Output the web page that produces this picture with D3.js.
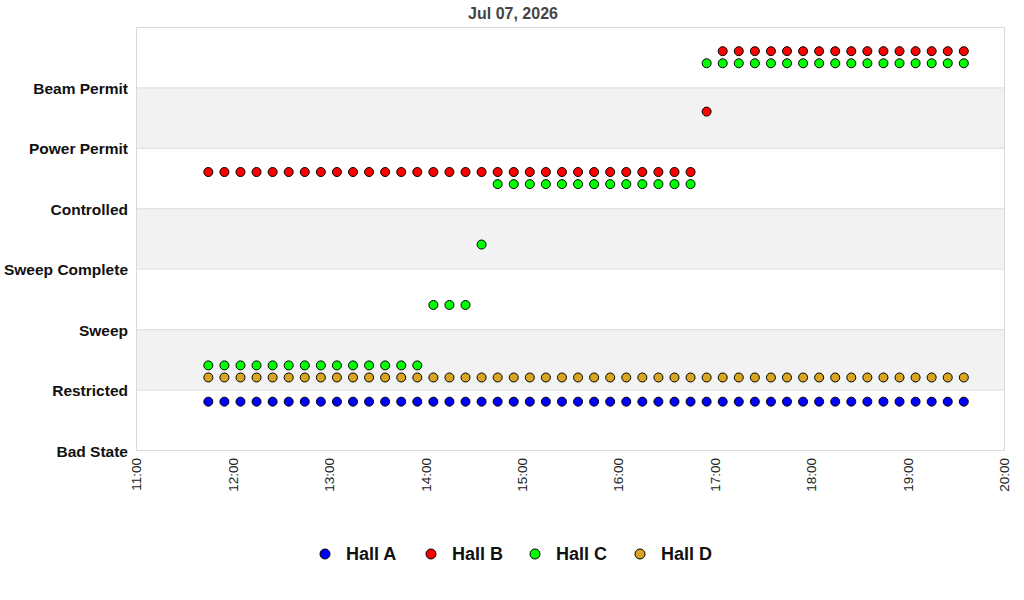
<!DOCTYPE html>
<html>
<head>
<meta charset="utf-8">
<script src="https://cdn.jsdelivr.net/npm/d3@7"></script>
<style>
  body { margin: 0; background: #fff; font-family: "Liberation Sans", Arial, sans-serif; }
</style>
</head>
<body>
<svg id="chart"></svg>
<script>
// states on the y axis, bottom to top
const states = ["Bad State", "Restricted", "Sweep", "Sweep Complete", "Controlled", "Power Permit", "Beam Permit"];
const halls = ["Hall A", "Hall B", "Hall C", "Hall D"];
const hallColors = ["#0000ff", "#ff0000", "#00ff00", "#daa520"];
const hallOffsets = [-0.2, 0.6, 0.4, 0.2];
const xTicks = ["11:00", "12:00", "13:00", "14:00", "15:00", "16:00", "17:00", "18:00", "19:00", "20:00"];

// sample times, every 10 minutes
const times = ["11:45", "11:55", "12:05", "12:15", "12:25", "12:35", "12:45", "12:55",
  "13:05", "13:15", "13:25", "13:35", "13:45", "13:55", "14:05", "14:15", "14:25", "14:35",
  "14:45", "14:55", "15:05", "15:15", "15:25", "15:35", "15:45", "15:55", "16:05", "16:15",
  "16:25", "16:35", "16:45", "16:55", "17:05", "17:15", "17:25", "17:35", "17:45", "17:55",
  "18:05", "18:15", "18:25", "18:35", "18:45", "18:55", "19:05", "19:15", "19:25", "19:35"];

// state index per sample
const hallA = [1,1,1,1,1,1,1,1,1,1,1,1,1,1,1,1,1,1,1,1,1,1,1,1,1,1,1,1,1,1,1,1,1,1,1,1,1,1,1,1,1,1,1,1,1,1,1,1];
const hallB = [4,4,4,4,4,4,4,4,4,4,4,4,4,4,4,4,4,4,4,4,4,4,4,4,4,4,4,4,4,4,4,5,6,6,6,6,6,6,6,6,6,6,6,6,6,6,6,6];
const hallC = [1,1,1,1,1,1,1,1,1,1,1,1,1,1,2,2,2,3,4,4,4,4,4,4,4,4,4,4,4,4,4,6,6,6,6,6,6,6,6,6,6,6,6,6,6,6,6,6];
const hallD = [1,1,1,1,1,1,1,1,1,1,1,1,1,1,1,1,1,1,1,1,1,1,1,1,1,1,1,1,1,1,1,1,1,1,1,1,1,1,1,1,1,1,1,1,1,1,1,1];
const hallData = [hallA, hallB, hallC, hallD];

const width = 1024, height = 600;
const margin = { top: 27, right: 20, bottom: 150, left: 136 };
const plotW = 1004 - margin.left, plotH = 450 - margin.top;

const parseT = d3.timeParse("%H:%M");
const svg = d3.select("#chart").attr("width", width).attr("height", height);
const g = svg.append("g").attr("transform", `translate(${margin.left},${margin.top})`);

const x = d3.scaleTime()
  .domain([parseT(xTicks[0]), parseT(xTicks[xTicks.length - 1])])
  .range([0, plotW]);
const y = d3.scaleLinear().domain([0, states.length]).range([plotH, 0]);

// alternating bands
g.selectAll("rect.band")
  .data(d3.range(states.length).filter(i => i % 2 === 1))
  .enter().append("rect")
  .attr("x", 0).attr("width", plotW)
  .attr("y", d => y(d + 1)).attr("height", d => y(d) - y(d + 1))
  .attr("fill", "#f2f2f2");

// grid lines
g.selectAll("line.grid")
  .data(d3.range(1, states.length))
  .enter().append("line")
  .attr("x1", 0).attr("x2", plotW)
  .attr("y1", d => y(d) + 0.5).attr("y2", d => y(d) + 0.5)
  .attr("stroke", "#dddddd");

g.append("rect")
  .attr("x", 0.5).attr("y", 0.5).attr("width", plotW).attr("height", plotH)
  .attr("fill", "none").attr("stroke", "#d9d9d9");

// y labels
g.selectAll("text.ylab")
  .data(states)
  .enter().append("text")
  .attr("x", -8).attr("y", (d, i) => y(i))
  .attr("dy", "0.42em")
  .attr("text-anchor", "end")
  .attr("font-size", 15.5).attr("font-weight", "bold").attr("fill", "#111")
  .text(d => d);

// x axis
const xAxis = d3.axisBottom(x)
  .tickValues(xTicks.map(parseT))
  .tickFormat(d3.timeFormat("%H:%M"))
  .tickSize(0);
const xg = g.append("g").attr("transform", `translate(0,${plotH})`).call(xAxis);
xg.select(".domain").remove();
xg.selectAll("text")
  .attr("font-family", "'Liberation Sans', Arial, sans-serif")
  .attr("font-size", 13.5).attr("fill", "#222")
  .attr("transform", "rotate(-90)")
  .attr("text-anchor", "end")
  .attr("x", -8).attr("y", 0).attr("dy", "0.35em");

// points
halls.forEach((h, hi) => {
  g.append("g").selectAll("circle")
    .data(hallData[hi].map((v, i) => ({ t: parseT(times[i]), v: v })))
    .enter().append("circle")
    .attr("cx", d => x(d.t))
    .attr("cy", d => y(d.v + hallOffsets[hi]))
    .attr("r", 4.5)
    .attr("fill", hallColors[hi])
    .attr("stroke", "#000").attr("stroke-width", 1);
});

// title
svg.append("text")
  .attr("x", 513).attr("y", 19)
  .attr("text-anchor", "middle")
  .attr("font-size", 16).attr("font-weight", "bold").attr("fill", "#444")
  .text("Jul 07, 2026");

// legend
const legendX = [325, 431, 535, 640];
const legend = svg.append("g");
halls.forEach((h, i) => {
  legend.append("circle")
    .attr("cx", legendX[i]).attr("cy", 554).attr("r", 5)
    .attr("fill", hallColors[i]).attr("stroke", "#000");
  legend.append("text")
    .attr("x", legendX[i] + 21).attr("y", 554).attr("dy", "0.35em")
    .attr("font-size", 18).attr("font-weight", "bold").attr("fill", "#111")
    .text(h);
});
</script>
</body>
</html>
